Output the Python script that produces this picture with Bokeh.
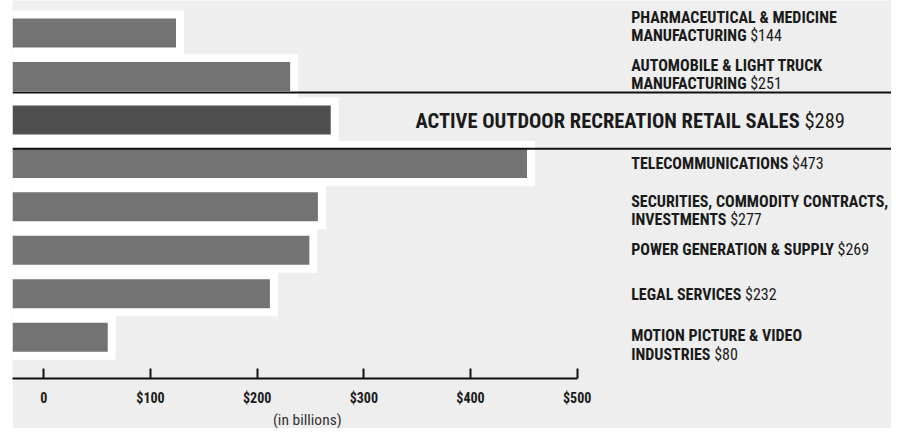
from bokeh.plotting import figure
from bokeh.models import Range1d, LinearAxis, FixedTicker, Span, Title, ColumnDataSource, CustomJS, Spacer
from bokeh.layouts import row
from bokeh.document import Document
from bokeh.events import DocumentReady
from bokeh.core.properties import value
from bokeh.embed import file_html
from bokeh.resources import INLINE

# ---------------- data ----------------
categories = [
    "PHARMACEUTICAL & MEDICINE\nMANUFACTURING",
    "AUTOMOBILE & LIGHT TRUCK\nMANUFACTURING",
    "ACTIVE OUTDOOR RECREATION RETAIL SALES",
    "TELECOMMUNICATIONS",
    "SECURITIES, COMMODITY CONTRACTS,\nINVESTMENTS",
    "POWER GENERATION & SUPPLY",
    "LEGAL SERVICES",
    "MOTION PICTURE & VIDEO\nINDUSTRIES",
]
values = [144, 251, 289, 473, 277, 269, 232, 80]
highlight = "ACTIVE OUTDOOR RECREATION RETAIL SALES"
tick_values = [0, 100, 200, 300, 400, 500]
tick_labels = ["0", "$100", "$200", "$300", "$400", "$500"]
axis_note = "(in billions)"

# ---------------- layout / style ----------------
FONT = "Roboto Condensed"
PX = 1.0668          # pixels per billion
LEFT_GAP = 12
PLOT_H = 428
FRAME_W = 879
FRAME_H = 378
X_START = -29.34     # axis value at the frame's left edge
BAR_SHIFT = 20.06    # bars are drawn shifted against the axis (as in the original)
ROW_PX = 43.46
ROW0_PX = 32.5
BAR_H = 29 / ROW_PX
GREY = "#eeeeee"
BAR_COLOR = "#737373"
HI_COLOR = "#4f4f4f"
TXT = "#1a1a1a"

BOLD_W = {
    'A': 722, 'B': 722, 'C': 722, 'D': 722, 'E': 667, 'F': 611, 'G': 778, 'H': 722,
    'I': 278, 'J': 556, 'K': 722, 'L': 611, 'M': 833, 'N': 722, 'O': 778, 'P': 667,
    'Q': 778, 'R': 722, 'S': 667, 'T': 611, 'U': 722, 'V': 667, 'W': 944, 'X': 667,
    'Y': 667, 'Z': 611, ' ': 240, '&': 680, ',': 278, '$': 556,
}


def bold_width(s, fs):
    return sum(BOLD_W.get(c, 600) for c in s) * 0.81 * fs / 1000.0


x_end = X_START + FRAME_W / PX
p = figure(
    width=FRAME_W, height=PLOT_H,
    x_range=Range1d(X_START, x_end),
    y_range=Range1d((FRAME_H - ROW0_PX) / ROW_PX, -ROW0_PX / ROW_PX),
    output_backend="svg", toolbar_location=None,
    x_axis_location=None, y_axis_location=None,
    min_border_left=0, min_border_right=0, min_border_top=0, min_border_bottom=PLOT_H - FRAME_H,
)
p.background_fill_color = GREY
p.border_fill_color = GREY
p.outline_line_color = None
p.xgrid.visible = False
p.ygrid.visible = False

bar_start = X_START + BAR_SHIFT
p.extra_x_ranges = {"bars": Range1d(bar_start, x_end + BAR_SHIFT)}

rows = list(range(len(categories)))
colors = [HI_COLOR if c == highlight else BAR_COLOR for c in categories]
src = ColumnDataSource(dict(y=rows, right=values, color=colors))

# white halo around every bar
p.hbar(y="y", left=bar_start, right="right", height=BAR_H, source=src,
       x_range_name="bars", fill_color="white", line_color="white",
       line_width=16, line_join="miter")
p.hbar(y="y", left=bar_start, right="right", height=BAR_H, source=src,
       x_range_name="bars", fill_color="color", line_color=None)

# rules around the highlighted row
hi = categories.index(highlight)
for loc in (hi - 0.631, hi + 0.664):
    p.add_layout(Span(location=loc, dimension="width", line_color="#111111", line_width=2))

# labels
nudges = [-7.5, -3, 0, -1, 3, -2, -0.5, 7]
LINE_PX = 18.5
groups = {}
for i, (cat, v) in enumerate(zip(categories, values)):
    is_hi = cat == highlight
    fs = 20.5 if is_hi else 16
    x0 = X_START + ((415 if is_hi else 630.7) - LEFT_GAP) / PX
    lines = cat.split("\n")
    n = len(lines)
    cap = 0.711 * fs
    g = groups.setdefault(fs, dict(bx=[], by=[], bt=[], boff=[], vx=[], vy=[], vt=[],
                                   voff=[], vxoff=[], pre=[], fs=[]))
    for j, line in enumerate(lines):
        yoff = nudges[i] + ((n - 1) * LINE_PX + cap) / 2 - (n - 1 - j) * LINE_PX - 0.3 * fs
        g["bx"].append(x0); g["by"].append(i); g["bt"].append(line); g["boff"].append(yoff)
        if j == n - 1:
            g["vx"].append(x0); g["vy"].append(i); g["vt"].append("$" + str(v))
            g["voff"].append(yoff); g["vxoff"].append(bold_width(line + " ", fs))
            g["pre"].append(line); g["fs"].append(fs)

value_sources = []
for fs, g in groups.items():
    bsrc = ColumnDataSource(dict(x=g["bx"], y=g["by"], text=g["bt"], yo=g["boff"]))
    p.text(x="x", y="y", text="text", y_offset="yo", source=bsrc,
           text_font=value(FONT), text_font_style="bold", text_font_size=f"{fs}px",
           text_color=TXT, text_baseline="alphabetic", text_align="left")
    vsrc = ColumnDataSource(dict(x=g["vx"], y=g["vy"], text=g["vt"], yo=g["voff"],
                                 xo=g["vxoff"], pre=g["pre"], fs=g["fs"]))
    p.text(x="x", y="y", text="text", y_offset="yo", x_offset="xo", source=vsrc,
           text_font=value(FONT), text_font_style="normal", text_font_size=f"{fs}px",
           text_color=TXT, text_baseline="alphabetic", text_align="left")
    value_sources.append(vsrc)

# axis
ax = LinearAxis(
    ticker=FixedTicker(ticks=tick_values, minor_ticks=[]),
    major_label_overrides={t: l for t, l in zip(tick_values, tick_labels)},
    bounds=(X_START, tick_values[-1]),
)
ax.axis_line_color = "#111111"
ax.axis_line_width = 2
ax.major_tick_line_color = "#111111"
ax.major_tick_line_width = 2
ax.major_tick_in = 10
ax.major_tick_out = 0
ax.minor_tick_line_color = None
ax.major_label_standoff = 11
ax.major_label_text_font = FONT
ax.major_label_text_font_style = "bold"
ax.major_label_text_font_size = "14px"
ax.major_label_text_color = TXT
p.add_layout(ax, "below")

note = Title(text=axis_note, align="left", offset=272.5 - LEFT_GAP, standoff=0,
             text_font=FONT, text_font_size="15.5px", text_font_style="normal",
             text_color="#333333")
p.add_layout(note, "below")

layout = row(Spacer(width=LEFT_GAP, height=PLOT_H), p)

# measure the bold part in the browser so the regular-weight value follows it exactly
measure = CustomJS(args=dict(sources=value_sources, font=FONT), code="""
const ctx = document.createElement("canvas").getContext("2d");
for (const s of sources) {
  const d = s.data;
  const xo = [];
  for (let i = 0; i < d.pre.length; i++) {
    ctx.font = "bold " + d.fs[i] + "px \\"" + font + "\\"";
    xo.push(ctx.measureText(d.pre[i] + " ").width);
  }
  s.data = Object.assign({}, d, {xo: xo});
}
""")

try:
    doc = Document()
    doc.add_root(layout)
    doc.js_on_event(DocumentReady, measure)
    html = file_html(doc, INLINE)
except Exception:
    html = file_html(layout, INLINE)

open("out.html", "w").write(html)
